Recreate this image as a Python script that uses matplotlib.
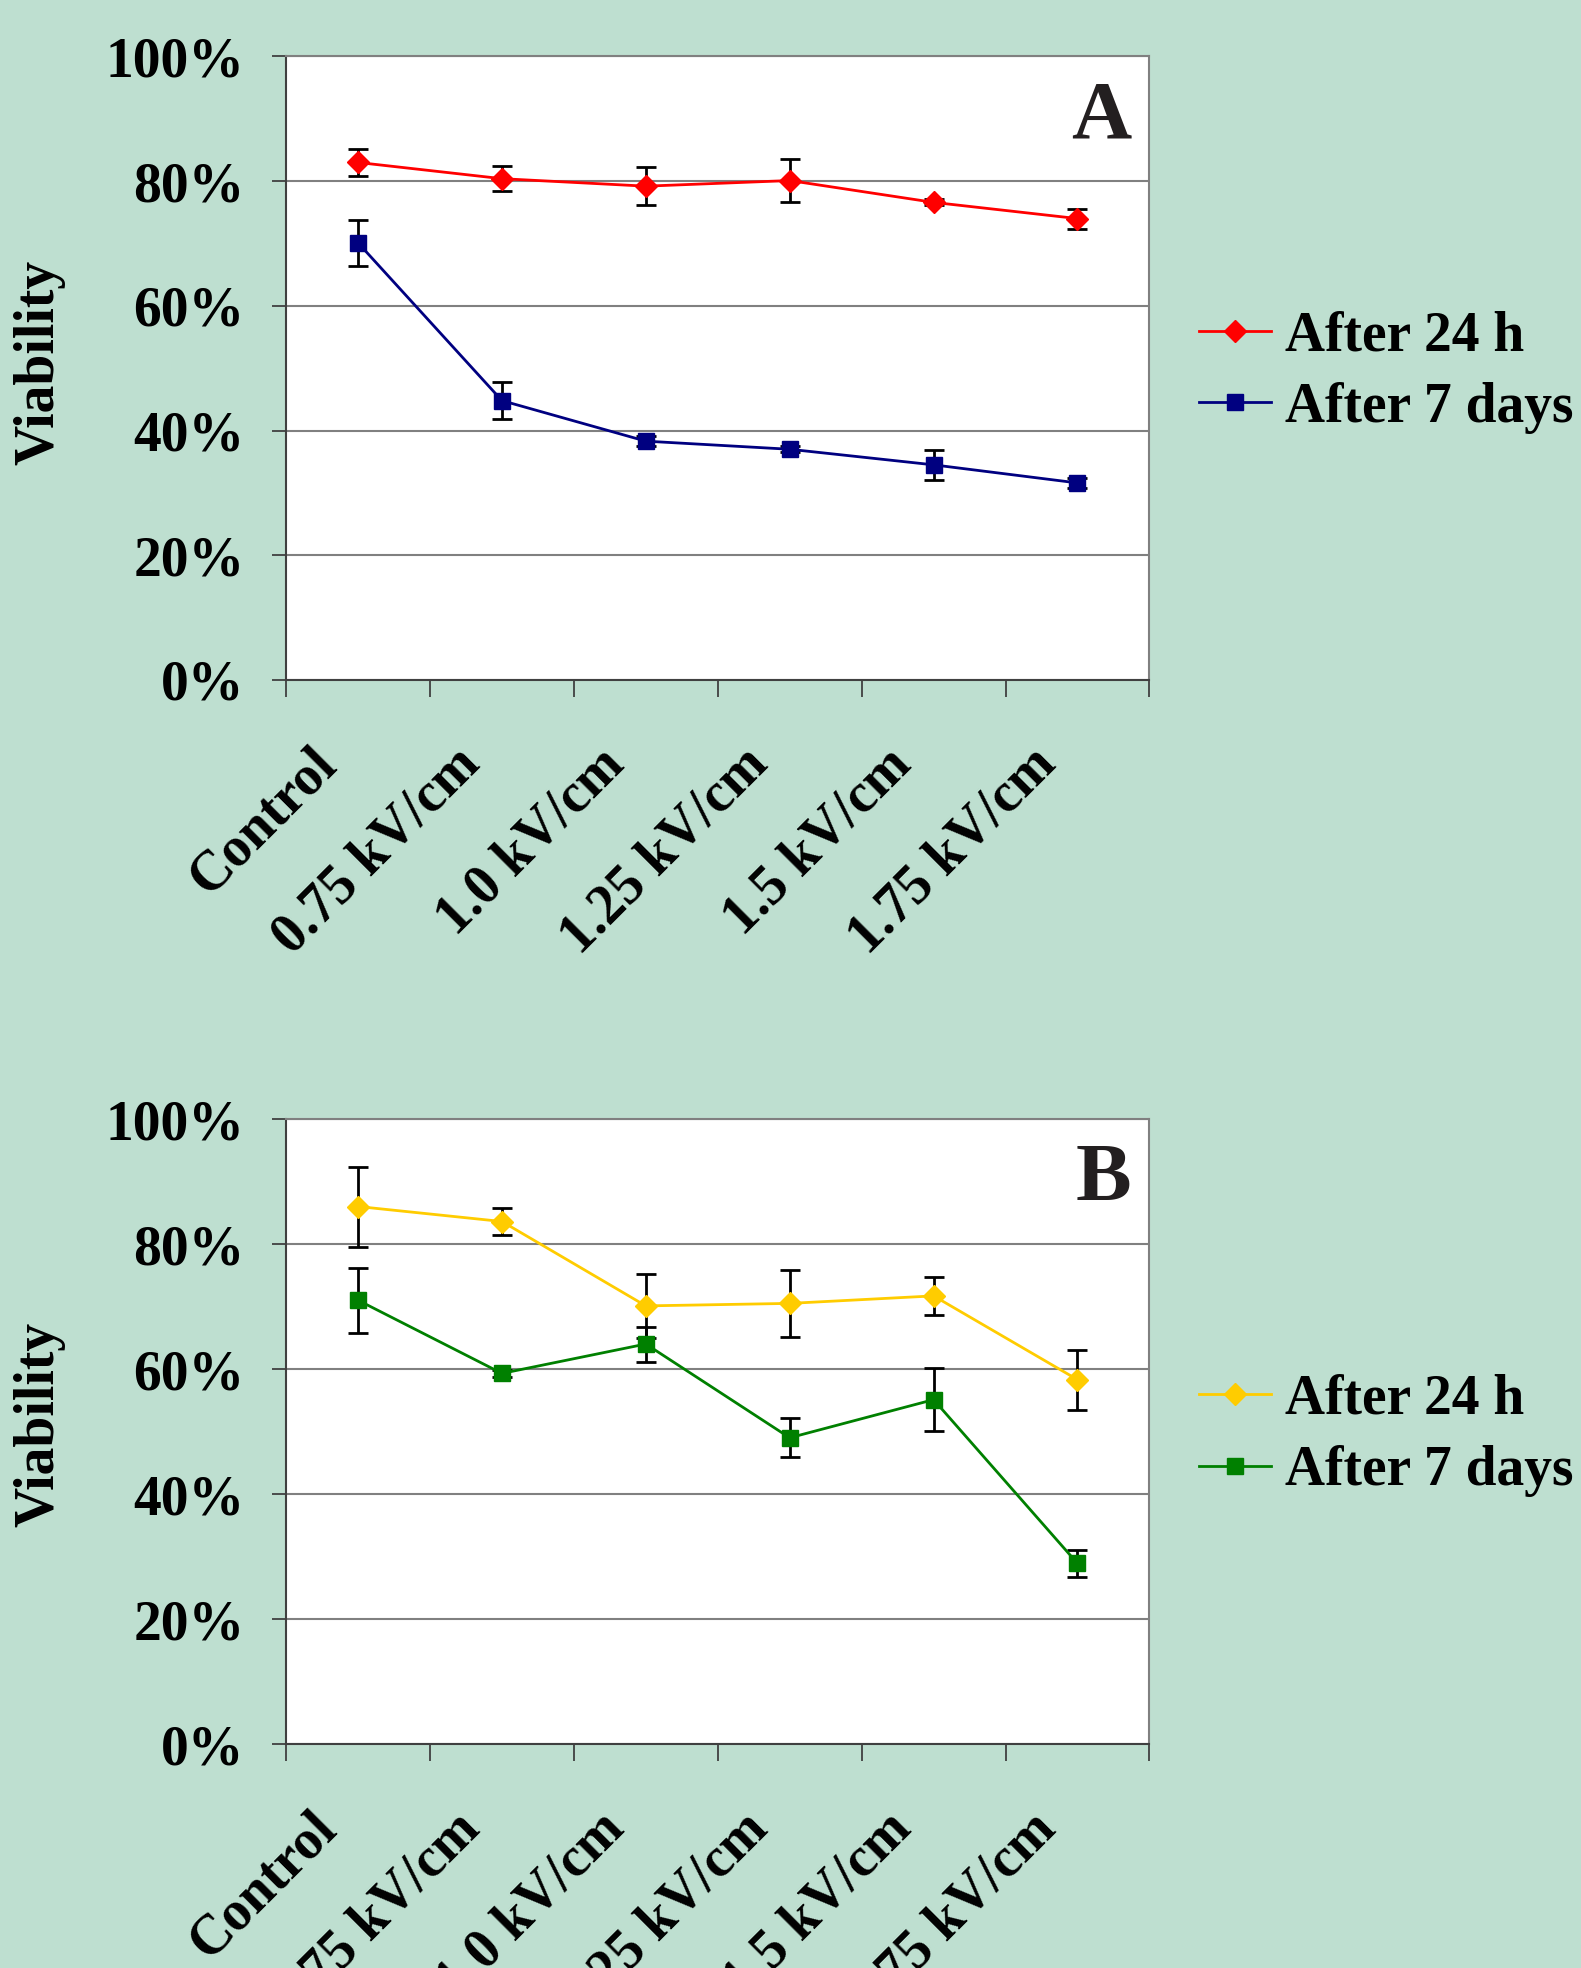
import numpy as np
import matplotlib.pyplot as plt

plt.rcParams['font.family'] = ['Liberation Serif', 'DejaVu Serif']
plt.rcParams['font.weight'] = 'bold'

categories = ["Control", "0.75 kV/cm", "1.0 kV/cm", "1.25 kV/cm", "1.5 kV/cm", "1.75 kV/cm"]
y_ticks = [0, 20, 40, 60, 80, 100]
y_tick_labels = ["0%", "20%", "40%", "60%", "80%", "100%"]
series_names = ["After 24 h", "After 7 days"]

# panel A
a_24h = [83.0, 80.4, 79.2, 80.1, 76.6, 74.0]
a_24h_err = [2.2, 2.0, 3.1, 3.4, 0.5, 1.6]
a_7d = [70.1, 44.8, 38.3, 37.0, 34.5, 31.6]
a_7d_err = [3.7, 3.0, 0.8, 0.5, 2.4, 0.8]

# panel B
b_24h = [86.0, 83.6, 70.1, 70.5, 71.7, 58.3]
b_24h_err = [6.4, 2.2, 5.1, 5.3, 3.0, 4.8]
b_7d = [71.0, 59.3, 64.0, 49.0, 55.1, 28.9]
b_7d_err = [5.2, 0.5, 2.8, 3.1, 5.0, 2.2]

BG = "#bedfd0"
FS = 40
LABEL_SHIFT = 0.21  # rotated labels sit a bit left of the category centre


def draw_panel(ax, letter, y1, e1, c1, y2, e2, c2):
    x = np.arange(len(categories))
    for y, e, c, m, ms, name in [(y1, e1, c1, "D", 11, series_names[0]),
                                 (y2, e2, c2, "s", 12, series_names[1])]:
        ax.errorbar(x, y, yerr=e, fmt="none", ecolor="black", elinewidth=2,
                    capsize=7, capthick=2, zorder=3)
        ax.plot(x, y, color=c, lw=2, marker=m, ms=ms, label=name, zorder=4)

    ax.set_facecolor("white")
    ax.set_xlim(-0.5, len(categories) - 0.5)
    ax.set_ylim(0, 100)

    # category boundaries get the tick marks, labels go on invisible minor ticks
    ax.set_xticks(np.arange(-0.5, len(categories), 1))
    ax.set_xticklabels([])
    ax.set_xticks(x - LABEL_SHIFT, minor=True)
    ax.set_xticklabels(categories, minor=True, rotation=45, ha="right",
                       va="center", rotation_mode="anchor", fontsize=FS)
    ax.tick_params(axis="x", which="major", direction="out", length=12,
                   width=1.3, color="#404040")
    ax.tick_params(axis="x", which="minor", length=0, pad=55)

    ax.set_yticks(y_ticks)
    ax.set_yticklabels(y_tick_labels, fontsize=FS)
    ax.tick_params(axis="y", direction="out", length=10, width=1.3,
                   color="#404040", pad=20)
    ax.yaxis.grid(True, color="#808080", lw=1.5)
    ax.set_axisbelow(True)

    for side in ["top", "right"]:
        ax.spines[side].set_color("#808080")
        ax.spines[side].set_linewidth(1.5)
    for side in ["left", "bottom"]:
        ax.spines[side].set_color("#404040")
        ax.spines[side].set_linewidth(1.5)

    ax.text(0.979, 0.962, letter, transform=ax.transAxes, ha="right",
            va="top", fontsize=60, color="#231f20")
    ax.legend(loc="center left", bbox_to_anchor=(1.057, 0.494), frameon=False,
              fontsize=FS, handlelength=1.3, handletextpad=0.25,
              labelspacing=0.35, borderpad=0, borderaxespad=0)


fig = plt.figure(figsize=(15.81, 19.68), dpi=100, facecolor=BG)
ax_a = fig.add_axes([0.181, 0.6545, 0.546, 0.3168])
ax_b = fig.add_axes([0.181, 0.1138, 0.546, 0.3176])

draw_panel(ax_a, "A", a_24h, a_24h_err, "#ff0000", a_7d, a_7d_err, "#000080")
draw_panel(ax_b, "B", b_24h, b_24h_err, "#ffcc00", b_7d, b_7d_err, "#008000")

fig.text(0.025, 0.816, "Viability", rotation=90, ha="center", va="center", fontsize=FS)
fig.text(0.025, 0.276, "Viability", rotation=90, ha="center", va="center", fontsize=FS)

fig.savefig("out.png", dpi=100, facecolor=BG)
